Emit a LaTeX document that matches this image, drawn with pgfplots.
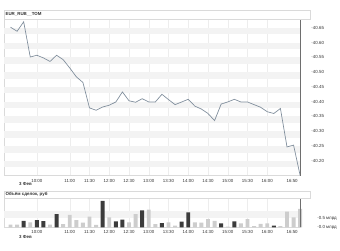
\documentclass[border=0pt]{standalone}
\usepackage{pgfplots}
\pgfplotsset{compat=1.18}
\usepackage{fontspec}
\setmainfont{Liberation Sans}
\definecolor{linec}{RGB}{128,142,156}
\definecolor{darkbar}{RGB}{60,60,60}
\definecolor{lightbar}{RGB}{205,205,205}
\definecolor{band}{RGB}{243,243,243}
\definecolor{framec}{RGB}{218,218,218}
\definecolor{axisc}{RGB}{110,110,110}
\definecolor{txt}{RGB}{50,50,50}
\newcommand{\fs}{\fontsize{4.5}{5}\selectfont}
\pgfplotsset{
  panel/.style={
    anchor=south west, scale only axis, width=302pt,
    xmin=-1, xmax=44,
    axis line style={framec},
    major tick length=0pt,
    xtick={4,9,12,15,18,21,24,27,30,33,36,39},
    xticklabels={10:00,11:00,11:30,12:00,12:30,13:00,13:30,14:00,14:30,15:00,15:30,16:00},
    extra x ticks={44}, extra x tick labels={16:50},
    extra x tick style={xticklabel style={anchor=north east, xshift=1pt}},
    xmajorgrids, grid style={black!7},
    ticklabel style={font=\fs, text=txt},
    /pgf/number format/assume math mode=true,
    yticklabel pos=right,
    yticklabel style={anchor=west, xshift=8pt},
    clip=false,
  }
}
\begin{document}
\begin{tikzpicture}
\path (0pt,0pt) rectangle (340pt,255pt);
% ---------- price panel ----------
\begin{axis}[panel, at={(4pt,76pt)}, height=159pt,
  ymin=40.15, ymax=40.6775,
  ytick={40.20,40.25,40.30,40.35,40.40,40.45,40.50,40.55,40.60,40.65},
  yticklabel={\textcolor{axisc}{-}\pgfmathprintnumber[fixed,precision=2,fixed zerofill]{\tick}},
]
\fill[band] (axis cs:-1,40.178) rectangle (axis cs:44,40.20);
\fill[band] (axis cs:-1,40.228) rectangle (axis cs:44,40.25);
\fill[band] (axis cs:-1,40.278) rectangle (axis cs:44,40.30);
\fill[band] (axis cs:-1,40.328) rectangle (axis cs:44,40.35);
\fill[band] (axis cs:-1,40.378) rectangle (axis cs:44,40.40);
\fill[band] (axis cs:-1,40.428) rectangle (axis cs:44,40.45);
\fill[band] (axis cs:-1,40.478) rectangle (axis cs:44,40.50);
\fill[band] (axis cs:-1,40.528) rectangle (axis cs:44,40.55);
\fill[band] (axis cs:-1,40.578) rectangle (axis cs:44,40.60);
\fill[band] (axis cs:-1,40.628) rectangle (axis cs:44,40.65);
\addplot[linec, line width=0.7pt, mark=none] coordinates {
(0,40.652) (1,40.638) (2,40.670) (3,40.551) (4,40.557) (5,40.548) (6,40.536)
(7,40.557) (8,40.542) (9,40.514) (10,40.484) (11,40.465) (12,40.379) (13,40.371)
(14,40.382) (15,40.388) (16,40.399) (17,40.433) (18,40.403) (19,40.398) (20,40.410)
(21,40.399) (22,40.399) (23,40.425) (24,40.407) (25,40.390) (26,40.399) (27,40.408)
(28,40.385) (29,40.375) (30,40.360) (31,40.336) (32,40.392) (33,40.399) (34,40.408)
(35,40.399) (36,40.399) (37,40.390) (38,40.381) (39,40.366) (40,40.360) (41,40.377)
(42,40.247) (43,40.253) (44,40.150)};
\draw[axisc, line width=0.6pt] (rel axis cs:1,0) -- (rel axis cs:1,1);
\end{axis}
% ---------- volume panel ----------
\begin{axis}[panel, at={(4pt,23.3pt)}, height=29.7pt,
  ymin=0, ymax=1.65,
  ytick={0,0.5},
  yticklabels={\textcolor{axisc}{-}0.0 млрд,\textcolor{axisc}{-}0.5 млрд},
  yticklabel style={xshift=6pt},
  ybar, bar width=4pt, bar shift=0pt,
]
\fill[band] (axis cs:-1,0.5) rectangle (axis cs:44,0.92);
\addplot[fill=lightbar, draw=none] coordinates {
(0,0.15) (1,0.15) (3,0.28) (6,0.15) (8,0.18) (9,0.71) (10,0.41) (11,0.26) (12,0.61)
(13,0.13) (15,0.56) (18,0.28) (19,0.74) (21,1.0) (22,0.18) (24,0.28) (25,0.09)
(28,0.28) (29,0.26) (30,0.46) (31,0.37) (33,0.04) (35,0.22) (36,0.46) (37,0.06)
(38,0.2) (39,0.22) (41,0.06) (42,0.89) (43,0.56) (44,1.04)};
\addplot[fill=darkbar, draw=none] coordinates {
(2,0.37) (4,0.41) (5,0.35) (7,0.74) (14,1.5) (16,0.33) (17,0.43) (20,0.96)
(23,0.24) (26,0.32) (27,0.85) (32,0.22) (34,0.33) (40,0.09)};
\draw[axisc, line width=0.6pt] (rel axis cs:1,0) -- (rel axis cs:1,1);
\end{axis}
% ---------- headers ----------
\draw[framec, fill=white, line width=0.4pt] (4pt,235pt) rectangle (316pt,245pt);
\node[anchor=west, inner sep=0pt, font=\fs\bfseries, text=txt] at (5.5pt,240pt) {EUR\_RUB\_\_TOM};
\draw[framec, fill=white, line width=0.4pt] (4pt,53pt) rectangle (316pt,60pt);
\node[anchor=west, inner sep=0pt, font=\fs\bfseries, text=txt] at (5.5pt,56.5pt) {Объём сделок, руб};
\node[inner sep=0pt, font=\fs\bfseries, text=txt] at (26pt,67pt) {3 Фев};
\node[inner sep=0pt, font=\fs\bfseries, text=txt] at (26pt,13.3pt) {3 Фев};
\end{tikzpicture}
\end{document}
